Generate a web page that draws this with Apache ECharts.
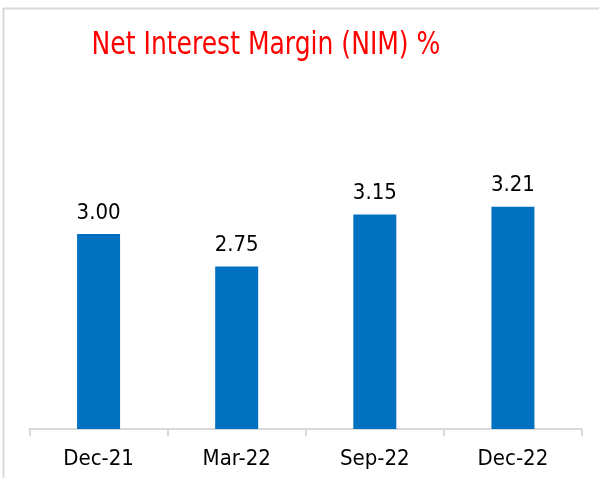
<!DOCTYPE html>
<html><head><meta charset="utf-8">
<script src="https://cdn.jsdelivr.net/npm/echarts@6/dist/echarts.min.js"></script>
<style>html,body{margin:0;padding:0;background:#fff}#c{width:599px;height:478px}</style>
</head><body><div id="c"></div>
<script>
const categories = ['Dec-21', 'Mar-22', 'Sep-22', 'Dec-22'];
const nimValues = [3.00, 2.75, 3.15, 3.21];
const titleText = 'Net Interest Margin (NIM) %';
const FONT = '"DejaVu Sans Condensed", "DejaVu Sans", sans-serif';

const chart = echarts.init(document.getElementById('c'), null, {renderer: 'canvas'});
chart.setOption({
  animation: false,
  backgroundColor: '#ffffff',
  graphic: [{
    type: 'rect', shape: {x: 3.5, y: 8.5, width: 700, height: 600},
    style: {fill: 'none', stroke: '#d9d9d9', lineWidth: 2}, silent: true
  }, {
    type: 'text', x: 266, y: 46, scaleX: 0.87, silent: true,
    style: {
      text: titleText, fill: '#ff0000', fontSize: 32, fontFamily: FONT,
      align: 'center', verticalAlign: 'middle'
    }
  }],
  grid: {left: 29.5, right: 17, top: 169, bottom: 49, containLabel: false},
  xAxis: {
    type: 'category', data: categories, boundaryGap: true,
    axisLine: {lineStyle: {color: '#d9d9d9', width: 2}},
    axisTick: {show: true, length: 7, alignWithLabel: false, lineStyle: {color: '#d9d9d9', width: 2}},
    axisLabel: {color: '#000', fontSize: 22, fontFamily: FONT, margin: 19}
  },
  yAxis: {
    type: 'value', min: 1.5, max: 3.5, show: false,
    splitLine: {show: false}
  },
  series: [{
    type: 'bar', data: nimValues, barWidth: 43,
    itemStyle: {color: '#0070c0'},
    label: {
      show: true, position: 'top', distance: 10, color: '#000',
      fontSize: 22, fontFamily: FONT,
      formatter: p => p.value.toFixed(2)
    }
  }]
});
</script></body></html>
